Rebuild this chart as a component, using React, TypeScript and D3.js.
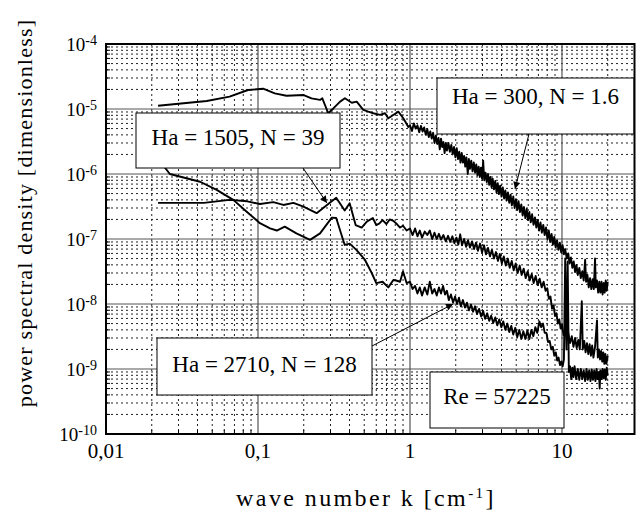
import React, { useEffect, useRef } from 'react';
import * as d3 from 'd3';

// spectra: [wave number k (1/cm), psd]
const ha300: [number, number][] = [
  [0.022, 1.12e-5], [0.046, 1.33e-5], [0.065, 1.55e-5], [0.086, 1.96e-5], [0.108, 2.05e-5],
  [0.129, 1.74e-5], [0.154, 1.6e-5], [0.2, 1.64e-5], [0.225, 1.46e-5], [0.256, 1.38e-5],
  [0.265, 1.46e-5], [0.29, 8.6e-6], [0.313, 1.02e-5], [0.347, 1.3e-5], [0.373, 1.46e-5],
  [0.414, 1.25e-5], [0.446, 1.3e-5], [0.493, 9.7e-6], [0.532, 9.1e-6], [0.574, 8.6e-6],
  [0.635, 8.1e-6], [0.685, 8.6e-6], [0.72, 7.2e-6], [0.776, 8.1e-6], [0.838, 9.1e-6],
  [0.904, 7.2e-6], [0.975, 5.3e-6],
  [1.0, 5.6e-6], [1.03, 4.6e-6], [1.06, 6.0e-6], [1.09, 5.0e-6], [1.12, 5.6e-6], [1.15, 4.4e-6],
  [1.18, 5.5e-6], [1.21, 4.5e-6], [1.24, 5.2e-6], [1.27, 4.0e-6], [1.3, 4.9e-6], [1.33, 3.7e-6],
  [1.36, 4.5e-6], [1.39, 3.5e-6], [1.42, 4.3e-6], [1.45, 3.0e-6], [1.48, 3.9e-6], [1.51, 2.9e-6],
  [1.54, 3.6e-6], [1.57, 2.4e-6], [1.6, 3.5e-6], [1.63, 2.6e-6], [1.66, 3.1e-6], [1.69, 2.1e-6],
  [1.72, 3.0e-6], [1.75, 2.3e-6], [1.79, 3.0e-6], [1.83, 2.2e-6], [1.87, 2.8e-6], [1.91, 2.0e-6],
  [1.95, 2.6e-6], [1.99, 1.8e-6], [2.03, 2.5e-6], [2.07, 1.7e-6], [2.11, 2.2e-6], [2.15, 1.5e-6],
  [2.19, 2.1e-6], [2.23, 1.5e-6], [2.27, 1.9e-6], [2.31, 1.3e-6], [2.35, 1.8e-6], [2.4, 1.0e-6],
  [2.44, 1.7e-6], [2.48, 1.2e-6], [2.53, 1.6e-6], [2.58, 1.1e-6], [2.63, 1.5e-6], [2.68, 1.05e-6],
  [2.73, 1.4e-6], [2.78, 9.5e-7], [2.83, 1.3e-6], [2.88, 9.0e-7], [2.93, 1.25e-6], [2.98, 8.5e-7],
  [3.03, 1.6e-6], [3.08, 8.0e-7], [3.14, 1.05e-6], [3.2, 7.5e-7], [3.26, 1.0e-6], [3.32, 6.8e-7],
  [3.38, 9.0e-7], [3.44, 6.3e-7], [3.5, 8.5e-7], [3.57, 5.8e-7], [3.64, 7.8e-7], [3.71, 5.2e-7],
  [3.78, 7.2e-7], [3.85, 4.9e-7], [3.92, 6.6e-7], [4.0, 4.5e-7], [4.08, 6.2e-7], [4.16, 4.2e-7],
  [4.24, 5.6e-7], [4.32, 3.9e-7], [4.41, 5.2e-7], [4.5, 3.6e-7], [4.59, 4.8e-7], [4.68, 3.3e-7],
  [4.78, 4.5e-7], [4.88, 3.0e-7], [4.98, 4.1e-7], [5.08, 2.8e-7], [5.18, 3.8e-7], [5.29, 2.6e-7],
  [5.4, 3.4e-7], [5.51, 2.3e-7], [5.62, 3.1e-7], [5.74, 2.1e-7], [5.86, 2.9e-7], [5.98, 1.95e-7],
  [6.1, 2.6e-7], [6.23, 1.8e-7], [6.36, 2.4e-7], [6.5, 1.65e-7], [6.64, 2.15e-7], [6.78, 1.5e-7],
  [6.92, 1.95e-7], [7.07, 1.35e-7], [7.22, 1.8e-7], [7.37, 1.25e-7], [7.53, 1.65e-7], [7.69, 1.15e-7],
  [7.85, 1.5e-7], [8.02, 1.0e-7], [8.19, 1.35e-7], [8.36, 9.0e-8], [8.54, 1.2e-7], [8.72, 8.2e-8],
  [8.9, 1.08e-7], [9.09, 7.4e-8], [9.28, 9.6e-8], [9.48, 6.8e-8], [9.68, 8.8e-8], [9.88, 6.2e-8],
  [10.1, 8.0e-8], [10.3, 5.8e-8], [10.5, 7.0e-8], [10.75, 5.0e-8], [11.0, 6.0e-8], [11.2, 4.2e-8],
  [11.45, 5.2e-8], [11.7, 3.6e-8], [11.95, 4.5e-8], [12.2, 3.1e-8], [12.45, 4.0e-8], [12.7, 2.8e-8],
  [13.0, 3.6e-8], [13.3, 2.5e-8], [13.6, 3.2e-8], [13.9, 2.3e-8], [14.2, 4.8e-8], [14.4, 2.2e-8],
  [14.7, 2.8e-8], [15.0, 1.8e-8], [15.3, 2.5e-8], [15.6, 1.7e-8], [15.9, 2.4e-8], [16.2, 1.7e-8],
  [16.5, 5.0e-8], [16.7, 1.8e-8], [17.0, 2.3e-8], [17.3, 1.5e-8], [17.6, 2.2e-8], [17.9, 1.5e-8],
  [18.2, 2.2e-8], [18.5, 1.4e-8], [18.8, 2.1e-8], [19.1, 1.5e-8], [19.4, 2.3e-8], [19.7, 1.6e-8],
  [20.0, 2.2e-8],
];

const ha1505: [number, number][] = [
  [0.022, 3.6e-7], [0.044, 3.6e-7], [0.065, 4.0e-7], [0.085, 3.8e-7], [0.103, 3.45e-7],
  [0.126, 3.7e-7], [0.147, 3.34e-7], [0.171, 3.6e-7], [0.199, 3.15e-7], [0.243, 2.5e-7],
  [0.283, 3.3e-7], [0.327, 4.3e-7], [0.372, 2.75e-7], [0.401, 3.55e-7], [0.439, 1.64e-7],
  [0.481, 1.5e-7], [0.52, 1.85e-7], [0.57, 2.1e-7], [0.6, 1.64e-7], [0.63, 1.74e-7],
  [0.66, 1.95e-7], [0.7, 1.7e-7], [0.735, 2.0e-7], [0.777, 1.9e-7], [0.82, 1.7e-7],
  [0.86, 1.5e-7], [0.9, 1.6e-7], [0.95, 1.35e-7],
  [1.0, 1.45e-7], [1.04, 1.15e-7], [1.08, 1.45e-7], [1.12, 1.1e-7], [1.16, 1.35e-7], [1.2, 1.05e-7],
  [1.25, 1.3e-7], [1.3, 1.15e-7], [1.35, 1.35e-7], [1.4, 1.0e-7], [1.45, 1.25e-7], [1.5, 1.0e-7],
  [1.55, 1.2e-7], [1.6, 9.8e-8], [1.66, 1.15e-7], [1.72, 9.2e-8], [1.78, 1.12e-7], [1.84, 9.0e-8],
  [1.9, 1.1e-7], [1.96, 8.6e-8], [2.02, 1.05e-7], [2.08, 8.2e-8], [2.14, 1.18e-7], [2.2, 8.0e-8],
  [2.27, 1.0e-7], [2.34, 7.6e-8], [2.41, 9.6e-8], [2.48, 7.4e-8], [2.56, 9.2e-8], [2.64, 7.0e-8],
  [2.72, 8.8e-8], [2.8, 6.6e-8], [2.89, 8.5e-8], [2.98, 6.2e-8], [3.07, 8.0e-8], [3.16, 5.8e-8],
  [3.26, 7.3e-8], [3.36, 5.4e-8], [3.46, 6.8e-8], [3.57, 5.0e-8], [3.68, 6.3e-8], [3.79, 4.6e-8],
  [3.9, 5.9e-8], [4.02, 4.2e-8], [4.14, 5.4e-8], [4.27, 3.9e-8], [4.4, 5.0e-8], [4.53, 3.6e-8],
  [4.67, 4.6e-8], [4.81, 3.3e-8], [4.96, 4.2e-8], [5.11, 3.0e-8], [5.27, 3.9e-8], [5.43, 2.8e-8],
  [5.6, 3.5e-8], [5.77, 2.5e-8], [5.95, 3.2e-8], [6.13, 2.3e-8], [6.32, 2.9e-8], [6.51, 2.1e-8],
  [6.71, 2.7e-8], [6.92, 1.95e-8], [7.13, 2.45e-8], [7.35, 1.8e-8], [7.57, 2.2e-8], [7.8, 1.6e-8],
  [8.0, 1.75e-8], [8.2, 1.2e-8], [8.4, 1.3e-8], [8.6, 8.5e-9], [8.8, 9.5e-9], [9.0, 6.5e-9],
  [9.2, 7.2e-9], [9.4, 5.0e-9], [9.6, 5.8e-9], [9.8, 4.2e-9], [10.0, 4.8e-9], [10.25, 3.3e-9],
  [10.5, 4.0e-9], [10.75, 2.8e-9], [11.0, 3.6e-9], [11.3, 2.5e-9], [11.6, 3.2e-9], [11.9, 2.2e-9],
  [12.2, 3.0e-9], [12.5, 2.1e-9], [12.8, 2.8e-9], [13.1, 2.0e-9], [13.5, 1.1e-8], [13.7, 2.0e-9],
  [14.0, 2.7e-9], [14.3, 1.8e-9], [14.6, 2.5e-9], [14.9, 1.7e-9], [15.2, 2.4e-9], [15.5, 1.6e-9],
  [15.8, 2.3e-9], [16.1, 1.5e-9], [16.5, 2.2e-9], [17.0, 5.6e-9], [17.2, 1.5e-9], [17.5, 2.0e-9],
  [17.8, 1.4e-9], [18.1, 1.9e-9], [18.4, 1.3e-9], [18.7, 1.8e-9], [19.0, 1.2e-9], [19.3, 1.7e-9],
  [19.6, 1.2e-9], [20.0, 1.6e-9],
];

const ha2710: [number, number][] = [
  [0.022, 1.5e-6], [0.0244, 1.26e-6], [0.0263, 1.0e-6], [0.0416, 7.6e-7], [0.0535, 5.7e-7],
  [0.0688, 4.0e-7], [0.0843, 2.63e-7], [0.103, 1.75e-7], [0.12, 1.46e-7], [0.133, 1.35e-7],
  [0.15, 1.55e-7], [0.179, 1.22e-7], [0.22, 9.7e-8], [0.256, 1.22e-7], [0.306, 2.13e-7],
  [0.327, 2.1e-7], [0.372, 8.1e-8], [0.401, 8.5e-8], [0.444, 6.8e-8], [0.505, 4.8e-8],
  [0.56, 3.0e-8], [0.6, 2.1e-8], [0.66, 2.2e-8], [0.72, 1.8e-8], [0.777, 2.34e-8],
  [0.81, 2.3e-8], [0.86, 2.2e-8], [0.9, 3.16e-8], [0.95, 2.1e-8],
  [1.0, 2.2e-8], [1.04, 1.7e-8], [1.08, 1.9e-8], [1.12, 1.45e-8], [1.16, 1.8e-8], [1.2, 1.35e-8],
  [1.25, 1.8e-8], [1.3, 1.4e-8], [1.35, 2.2e-8], [1.4, 1.45e-8], [1.45, 1.7e-8], [1.5, 1.35e-8],
  [1.55, 1.8e-8], [1.6, 1.45e-8], [1.65, 1.9e-8], [1.7, 1.4e-8], [1.75, 1.6e-8], [1.8, 1.15e-8],
  [1.86, 1.4e-8], [1.92, 1.05e-8], [1.98, 1.3e-8], [2.04, 1.0e-8], [2.1, 1.25e-8], [2.16, 9.2e-9],
  [2.23, 1.15e-8], [2.3, 8.8e-9], [2.37, 1.05e-8], [2.44, 8.0e-9], [2.52, 9.8e-9], [2.6, 7.6e-9],
  [2.68, 9.2e-9], [2.76, 7.0e-9], [2.85, 8.4e-9], [2.94, 6.4e-9], [3.03, 7.8e-9], [3.12, 5.9e-9],
  [3.22, 7.2e-9], [3.32, 5.5e-9], [3.42, 6.6e-9], [3.53, 5.1e-9], [3.64, 6.2e-9], [3.75, 4.7e-9],
  [3.87, 5.8e-9], [3.99, 4.4e-9], [4.11, 5.4e-9], [4.24, 4.0e-9], [4.37, 5.0e-9], [4.5, 3.7e-9],
  [4.64, 4.6e-9], [4.78, 3.4e-9], [4.93, 4.3e-9], [5.08, 3.1e-9], [5.24, 4.0e-9], [5.4, 2.9e-9],
  [5.57, 3.8e-9], [5.74, 2.9e-9], [5.92, 3.9e-9], [6.1, 2.9e-9], [6.29, 4.0e-9], [6.48, 3.2e-9],
  [6.68, 4.4e-9], [6.88, 3.6e-9], [7.1, 5.4e-9], [7.3, 4.4e-9], [7.5, 5.0e-9], [7.7, 3.6e-9],
  [7.9, 3.6e-9], [8.1, 2.6e-9], [8.3, 2.7e-9], [8.5, 2.0e-9], [8.7, 2.2e-9], [8.9, 1.6e-9],
  [9.1, 1.8e-9], [9.3, 1.35e-9], [9.5, 1.5e-9], [9.7, 1.15e-9], [9.9, 1.3e-9], [10.1, 1.1e-9],
  [10.3, 1.4e-9], [10.5, 5.0e-8], [10.7, 2.0e-9], [10.9, 4.5e-8], [11.1, 9.0e-10], [11.3, 1.1e-9],
  [11.5, 7.0e-10], [11.7, 1.05e-9], [11.9, 7.5e-10], [12.1, 1.1e-9], [12.4, 7.0e-10], [12.7, 1.0e-9],
  [13.0, 6.8e-10], [13.3, 1.0e-9], [13.6, 7.0e-10], [13.9, 9.5e-10], [14.2, 6.5e-10], [14.5, 1.0e-9],
  [14.8, 6.8e-10], [15.1, 9.5e-10], [15.4, 6.5e-10], [15.7, 9.8e-10], [16.0, 6.8e-10], [16.3, 9.5e-10],
  [16.6, 6.5e-10], [16.9, 1.0e-9], [17.2, 7.0e-10], [17.5, 9.0e-10], [17.7, 5.0e-10], [17.9, 9.5e-10],
  [18.2, 7.0e-10], [18.5, 1.0e-9], [18.8, 7.2e-10], [19.1, 9.8e-10], [19.4, 6.8e-10], [19.7, 1.05e-9],
  [20.0, 8.0e-10],
];

const xTicks = [0.01, 0.1, 1, 10];
const xTickLabels = ['0,01', '0,1', '1', '10'];
const yExponents = [-4, -5, -6, -7, -8, -9, -10];

// annotation boxes (pixels) and where their arrows point (data units)
const notes = [
  { text: 'Ha = 1505, N = 39', box: [136, 113, 340, 168], base: 145, from: [303, 168], to: [0.284, 3.58e-7] },
  { text: 'Ha = 300, N = 1.6', box: [437, 78, 634, 134], base: 104, from: [529, 134], to: [4.91, 5.9e-7] },
  { text: 'Ha = 2710, N = 128', box: [157, 338, 372, 395], base: 372, from: [372, 346], to: [1.92, 1.0e-8] },
  { text: 'Re = 57225', box: [430, 372, 564, 428], base: 404, from: null, to: null },
];

const FONT = 'Liberation Serif, DejaVu Serif, Times New Roman, serif';

export default function App() {
  const svgRef = useRef<SVGSVGElement>(null);

  useEffect(() => {
    const width = 640;
    const height = 515;
    const left = 106, right = 634.5, top = 44, bottom = 434;

    const svg = d3.select(svgRef.current)
      .attr('width', width)
      .attr('height', height)
      .attr('font-family', FONT);
    svg.selectAll('*').remove();

    svg.append('rect').attr('width', width).attr('height', height).attr('fill', '#fff');

    svg.append('defs').append('marker')
      .attr('id', 'arrow')
      .attr('viewBox', '0 0 10 10')
      .attr('refX', 10).attr('refY', 5)
      .attr('markerUnits', 'userSpaceOnUse')
      .attr('markerWidth', 11).attr('markerHeight', 7)
      .attr('orient', 'auto')
      .append('path').attr('d', 'M0,0L10,5L0,10Z').attr('fill', '#000');

    const x = d3.scaleLog().domain([0.01, 30]).range([left, right]);
    const y = d3.scaleLog().domain([1e-10, 1e-4]).range([bottom, top]);

    const xMinor: number[] = [];
    for (const d of [0.01, 0.1, 1, 10]) {
      for (let m = 2; m <= 9; m++) if (m * d <= 30) xMinor.push(m * d);
    }
    const yMinor: number[] = [];
    for (let e = -10; e < -4; e++) {
      for (let m = 2; m <= 9; m++) yMinor.push(m * Math.pow(10, e));
    }
    const yMajor = yExponents.map(e => Math.pow(10, e));

    const grid = svg.append('g');
    grid.selectAll('.vminor').data(xMinor).enter().append('line')
      .attr('x1', d => x(d)).attr('x2', d => x(d))
      .attr('y1', top).attr('y2', bottom)
      .attr('stroke', '#222').attr('stroke-width', 1).attr('stroke-dasharray', '2,3');
    grid.selectAll('.hminor').data(yMinor).enter().append('line')
      .attr('x1', left).attr('x2', right)
      .attr('y1', d => y(d)).attr('y2', d => y(d))
      .attr('stroke', '#222').attr('stroke-width', 1).attr('stroke-dasharray', '2,3');
    grid.selectAll('.vmajor').data(xTicks).enter().append('line')
      .attr('x1', d => x(d)).attr('x2', d => x(d))
      .attr('y1', top).attr('y2', bottom)
      .attr('stroke', '#555').attr('stroke-width', 1.2);
    grid.selectAll('.hmajor').data(yMajor).enter().append('line')
      .attr('x1', left).attr('x2', right)
      .attr('y1', d => y(d)).attr('y2', d => y(d))
      .attr('stroke', '#555').attr('stroke-width', 1.2);

    const line = d3.line<[number, number]>()
      .x(d => x(d[0]))
      .y(d => y(d[1]));

    svg.append('g').selectAll('path').data([ha300, ha1505, ha2710]).enter().append('path')
      .attr('d', d => line(d))
      .attr('fill', 'none')
      .attr('stroke', '#000')
      .attr('stroke-width', 1.9)
      .attr('stroke-linejoin', 'round');

    const ng = svg.append('g');
    notes.forEach(n => {
      const [x0, y0, x1, y1] = n.box;
      ng.append('rect')
        .attr('x', x0).attr('y', y0)
        .attr('width', x1 - x0).attr('height', y1 - y0)
        .attr('fill', '#fff').attr('stroke', '#000').attr('stroke-width', 1);
      ng.append('text')
        .attr('x', (x0 + x1) / 2).attr('y', n.base)
        .attr('text-anchor', 'middle')
        .attr('font-size', 23)
        .text(n.text);
      if (n.from && n.to) {
        ng.append('line')
          .attr('x1', n.from[0]).attr('y1', n.from[1])
          .attr('x2', x(n.to[0])).attr('y2', y(n.to[1]))
          .attr('stroke', '#000').attr('stroke-width', 1)
          .attr('marker-end', 'url(#arrow)');
      }
    });

    // frame and inner ticks
    const ax = svg.append('g');
    ax.selectAll('.ytk').data(yMinor).enter().append('line')
      .attr('x1', left).attr('x2', left + 4)
      .attr('y1', d => y(d)).attr('y2', d => y(d))
      .attr('stroke', '#000').attr('stroke-width', 1);
    ax.selectAll('.xtk').data(xMinor).enter().append('line')
      .attr('x1', d => x(d)).attr('x2', d => x(d))
      .attr('y1', bottom).attr('y2', bottom - 4)
      .attr('stroke', '#000').attr('stroke-width', 1);
    ax.append('rect')
      .attr('x', left).attr('y', top)
      .attr('width', right - left).attr('height', bottom - top)
      .attr('fill', 'none').attr('stroke', '#000').attr('stroke-width', 2);

    ax.selectAll('.xlab').data(xTicks).enter().append('text')
      .attr('x', d => x(d)).attr('y', 458)
      .attr('text-anchor', 'middle')
      .attr('font-size', 21)
      .text((d, i) => xTickLabels[i]);

    const yl = ax.selectAll('.ylab').data(yExponents).enter().append('text')
      .attr('x', 97).attr('y', d => y(Math.pow(10, d)) + 6.5)
      .attr('text-anchor', 'end')
      .attr('font-size', 19);
    yl.append('tspan').text('10');
    yl.append('tspan').attr('dy', -6).attr('font-size', 14).text(d => String(d));

    const xt = svg.append('text')
      .attr('x', 366).attr('y', 506)
      .attr('text-anchor', 'middle')
      .attr('font-size', 24)
      .attr('letter-spacing', 2.4);
    xt.append('tspan').text('wave number k [cm');
    xt.append('tspan').attr('dy', -8).attr('font-size', 15).text('-1');
    xt.append('tspan').attr('dy', 8).text(']');

    svg.append('text')
      .attr('transform', 'translate(32,213) rotate(-90)')
      .attr('text-anchor', 'middle')
      .attr('font-size', 22)
      .attr('letter-spacing', 1.2)
      .text('power spectral density [dimensionless]');
  }, []);

  return <svg ref={svgRef} style={{ position: 'absolute', left: 0, top: 0 }} />;
}
